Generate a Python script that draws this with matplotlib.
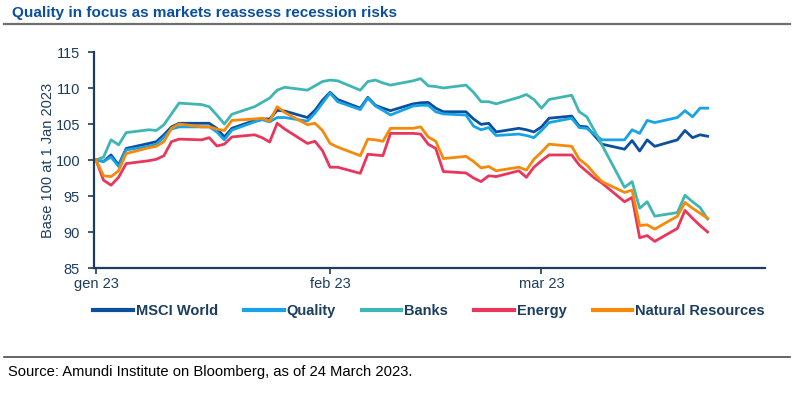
import matplotlib
matplotlib.use("Agg")
import matplotlib.pyplot as plt
import matplotlib.dates as mdates
from matplotlib.lines import Line2D
import pandas as pd
import numpy as np

plt.rcParams['font.family'] = ['Liberation Sans', 'DejaVu Sans']

# business days, 2 Jan 2023 - 24 Mar 2023
dates = pd.bdate_range('2023-01-02', '2023-03-24')

msci_world = [
    100, 99.8, 100.7, 99.3, 101.6,
    102.3, 102.55, 103.5, 104.6, 105.1,
    105.1, 105.1, 104.4, 103.2, 104.4,
    105.5, 105.7, 105.7, 106.9, 106.8,
    105.9, 106.9, 108.3, 109.4, 108.4,
    107.2, 108.7, 107.6, 107.2, 106.85,
    107.8, 107.95, 108.0, 107.2, 106.7,
    106.7, 105.7, 104.95, 105.1, 103.9,
    104.4, 104.2, 103.9, 104.6, 105.8,
    106.1, 104.7, 104.6, 103.4, 102.2,
    101.5, 102.7, 101.25, 102.8, 101.9,
    102.8, 104.1, 103.1, 103.5, 103.3,
]
quality = [
    100, 99.8, 100.4, 99.1, 101.4,
    101.9, 102.2, 103.15, 104.3, 104.6,
    104.6, 104.6, 103.9, 102.8, 104.15,
    105.3, 105.6, 105.3, 105.9, 105.9,
    105.4, 106.5, 107.9, 109.3, 108.1,
    107.0, 108.6, 107.5, 106.9, 106.25,
    107.5, 107.6, 107.6, 106.7, 106.4,
    106.25, 104.7, 104.2, 104.5, 103.4,
    103.6, 103.4, 103.1, 104.1, 105.2,
    105.8, 104.5, 104.4, 103.6, 102.8,
    102.8, 104.2, 103.7, 105.5, 105.2,
    105.9, 106.85, 106.0, 107.2, 107.2,
]
banks = [
    100, 100.4, 102.8, 102.1, 103.8,
    104.2, 104.1, 104.9, 106.4, 107.9,
    107.7, 107.4, 106.25, 105.0, 106.35,
    107.4, 108.0, 108.6, 109.7, 110.1,
    109.7, 110.3, 110.9, 111.1, 111.0,
    109.7, 110.9, 111.1, 110.7, 110.4,
    111.0, 111.3, 110.3, 110.2, 110.0,
    110.4, 109.4, 108.1, 108.1, 107.8,
    108.7, 109.1, 108.4, 107.2, 108.4,
    109.0, 106.7, 106.0, 104.1, 102.1,
    96.2, 97.0, 93.3, 94.2, 92.2,
    92.7, 95.1, 94.2, 93.4, 91.8,
]
energy = [
    100, 97.2, 96.5, 97.6, 99.5,
    99.9, 100.1, 100.6, 102.55, 102.9,
    102.8, 103.1, 101.95, 102.2, 103.2,
    103.5, 103.1, 102.5, 105.1, 104.3,
    102.3, 102.6, 101.3, 99.0, 99.0,
    98.15, 100.8, 100.7, 100.6, 103.7,
    103.7, 103.6, 102.2, 101.6, 98.4,
    98.2, 97.5, 97.0, 97.8, 97.7,
    98.5, 97.6, 99.0, 99.9, 100.7,
    100.7, 99.3, 98.4, 97.5, 96.8,
    94.2, 94.8, 89.2, 89.5, 88.7,
    90.5, 93.0, 91.9, 90.9, 90.0,
]
natural_resources = [
    100, 97.8, 97.7, 98.5, 100.9,
    101.7, 101.9, 102.55, 104.4, 105.0,
    104.6, 104.6, 104.3, 104.1, 105.5,
    105.7, 105.8, 105.4, 107.4, 106.6,
    104.9, 105.1, 104.1, 102.3, 101.8,
    100.6, 102.9, 102.8, 102.6, 104.4,
    104.4, 104.6, 103.2, 102.6, 100.2,
    100.5, 99.8, 98.9, 99.1, 98.5,
    99.0, 98.6, 100.1, 101.1, 102.2,
    101.9, 100.1, 99.3, 98.1, 97.0,
    95.5, 95.8, 90.9, 91.0, 90.4,
    92.2, 94.1, 93.3, 92.6, 91.9,
]

series_names = ['MSCI World', 'Quality', 'Banks', 'Energy', 'Natural Resources']
series_values = [msci_world, quality, banks, energy, natural_resources]
series_colors = ['#0c4f9e', '#18a3e6', '#3fb6b4', '#e8365d', '#f5890a']

tick_dates = ['2023-01-02', '2023-02-02', '2023-03-02']
tick_labels = ['gen 23', 'feb 23', 'mar 23']
y_ticks = [85, 90, 95, 100, 105, 110, 115]

navy = '#1c3d5e'

fig = plt.figure(figsize=(8.0, 4.15), dpi=100)
ax = fig.add_axes([94/800, 147/415, 671/800, 216/415])

for name, vals, col in zip(series_names, series_values, series_colors):
    ax.plot(dates, vals, color=col, lw=2.0, label=name, solid_joinstyle='round')

start = mdates.date2num(pd.Timestamp('2023-01-02'))
ax.set_xlim(start - 0.26, start + 88.6)
ax.set_ylim(85, 115)
ax.set_yticks(y_ticks)
ax.set_xticks([mdates.date2num(pd.Timestamp(d)) for d in tick_dates])
ax.set_xticklabels(tick_labels)

for s in ['top', 'right']:
    ax.spines[s].set_visible(False)
for s in ['left', 'bottom']:
    ax.spines[s].set_color(navy)
    ax.spines[s].set_linewidth(1.6)
ax.tick_params(axis='both', colors=navy, labelsize=10.5, length=4, width=1.2, direction='out')
ax.tick_params(axis='y', pad=6)
ax.tick_params(axis='x', pad=2.5)
ax.set_ylabel('Base 100 at 1 Jan 2023', color=navy, fontsize=10.5, labelpad=0)

# title and rules
fig.text(12/800, 1 - 13/415, 'Quality in focus as markets reassess recession risks',
         fontsize=11, fontweight='bold', color='#0b4f9c', va='center', ha='left')
fig.add_artist(Line2D([4/800, 790/800], [1 - 24/415, 1 - 24/415], color='#6e6e6e', lw=1.6))
fig.add_artist(Line2D([4/800, 790/800], [1 - 357/415, 1 - 357/415], color='#4a4a4a', lw=1.2))
fig.text(8/800, 1 - 372/415, 'Source: Amundi Institute on Bloomberg, as of 24 March 2023.',
         fontsize=10.6, color='black', va='center', ha='left')

leg = fig.legend(loc='center', bbox_to_anchor=(429/800, 1 - 311/415), ncol=5, frameon=False,
                 handlelength=2.7, handletextpad=0.2, columnspacing=1.8,
                 prop={'size': 10.5, 'weight': 'bold'})
for t in leg.get_texts():
    t.set_color(navy)
for h in leg.legend_handles:
    h.set_linewidth(3)

fig.savefig('out.png', dpi=100)
